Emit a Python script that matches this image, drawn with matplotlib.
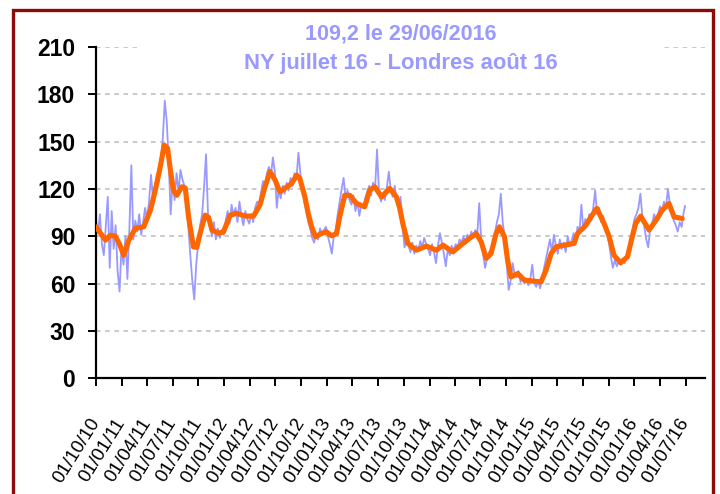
import matplotlib
matplotlib.use("Agg")
import matplotlib.pyplot as plt
from matplotlib.patches import Rectangle
import pandas as pd

plt.rcParams['font.family'] = ['Liberation Sans', 'DejaVu Sans']

# weekly spot prices (cents/lb), from 01/10/2010, one value every 7 days
spot_2010_11 = [100, 92, 104, 85, 78, 96, 115, 70, 106, 82, 97, 68, 55,
                84, 72, 90, 63, 95, 135, 88, 100, 93, 104, 91, 99, 108,
                101, 112, 129, 114, 122, 128, 125, 138, 152, 176, 163, 138, 104,
                125, 113, 130, 118, 132, 126, 122, 111, 96, 78, 62, 50, 72,
                85, 97, 104, 121, 142, 104, 96, 90, 99, 88, 95, 89, 94]
spot_2012 = [91, 100, 106, 98, 110, 103, 108, 99, 112, 103, 97, 106, 101,
             98, 104, 99, 108, 112, 110, 118, 125, 121, 130, 134, 128, 140,
             131, 108, 120, 114, 122, 117, 124, 119, 127, 122, 130, 126, 143,
             130, 122, 112, 106, 99, 95, 89, 86, 92, 88, 95, 91, 94]
spot_2013 = [96, 90, 85, 79, 90, 94, 104, 112, 120, 127, 114, 119, 113,
             110, 116, 106, 112, 103, 110, 108, 114, 118, 122, 116, 124, 120,
             145, 118, 112, 117, 113, 121, 131, 119, 115, 122, 112, 108, 115,
             96, 83, 88, 84, 80, 86, 79, 84, 81, 87, 83, 89, 85]
spot_2014 = [82, 78, 85, 80, 73, 84, 92, 86, 79, 71, 82, 78, 84,
             81, 85, 83, 88, 86, 90, 85, 91, 88, 93, 89, 94, 91,
             111, 88, 78, 70, 76, 80, 78, 86, 92, 99, 104, 117, 98,
             90, 72, 56, 62, 73, 66, 64, 68, 61, 65, 60, 63, 59]
spot_2015_16 = [63, 72, 60, 58, 62, 57, 63, 70, 76, 82, 88, 80, 91,
                84, 79, 88, 82, 86, 80, 90, 84, 87, 92, 85, 96, 93,
                110, 94, 101, 97, 104, 100, 108, 119, 104, 108, 99, 103, 96,
                92, 86, 77, 70, 75, 71, 74, 72, 76, 73, 78, 82, 89,
                94, 101, 104, 108, 117, 103, 96, 88, 83, 95, 98, 104, 100,
                104, 109, 106, 112, 108, 120, 111, 105, 100, 97, 93, 99, 96, 105]
last_date = '2016-06-29'
last_price = 109.2

# smoothed series: days since 01/10/2010 and value
smooth_day = [0, 34, 51, 69, 84, 99, 117, 140, 170, 194, 211, 229, 243, 255, 265,
              276, 288, 306, 318, 330, 347, 359, 371, 389, 401, 413, 436, 454,
              478, 501, 531, 561, 584, 602, 620, 638, 655, 673, 697, 715, 726,
              744, 756, 768, 782, 803, 821, 839, 857, 868, 886, 904, 928, 957,
              975, 993, 1017, 1046, 1070, 1082, 1093, 1111, 1141, 1177, 1212,
              1236, 1271, 1307, 1330, 1354, 1372, 1390, 1407, 1425, 1437, 1455,
              1466, 1478, 1502, 1526, 1555, 1585, 1603, 1621, 1638, 1668, 1703,
              1715, 1745, 1763, 1784, 1810, 1828, 1845, 1869, 1893, 1910, 1922,
              1940, 1970, 1999, 2017, 2041, 2059, 2088]
smooth_val = [96, 87.6, 90.7, 90, 85, 78, 87.6, 95, 96, 106.6, 119, 134, 147.8, 145.7, 132,
              119, 116, 121.4, 120.6, 102, 83.3, 83, 92, 103.4, 102, 94, 92, 92.8,
              103.4, 104.6, 102.8, 102.8, 109.8, 121.4, 131, 125.6, 118.2, 120.4, 123.5, 128.8, 126.7,
              115, 104.5, 96, 89.7, 91.8, 92.8, 90.3, 91.8, 102.3, 116, 116, 110.8, 108.7,
              119.3, 121.4, 115, 120.4, 115, 107.7, 98, 85.5, 81.2, 83.8, 81.2,
              84.4, 80.1, 85.5, 88.6, 91.8, 86.5, 76, 79, 91.8, 96, 89.7,
              75, 64.3, 66.4, 62.2, 61.7, 61.1, 68.5, 79, 83.3, 84.4, 85.5,
              91.8, 97, 102.3, 107.7, 98, 89.7, 78, 73.2, 77, 89.7, 98,
              102.8, 94, 101.3, 106.6, 110.8, 102.3, 101.3]

start = pd.Timestamp('2010-10-01')
spot = spot_2010_11 + spot_2012 + spot_2013 + spot_2014 + spot_2015_16
spot_dates = list(pd.date_range(start, periods=len(spot), freq='7D')) + [pd.Timestamp(last_date)]
spot = spot + [last_price]
smooth_dates = [start + pd.Timedelta(days=d) for d in smooth_day]

ticks = pd.date_range('2010-10-01', '2016-07-01', freq='QS')
yticks = [0, 30, 60, 90, 120, 150, 180, 210]

fig = plt.figure(figsize=(7.2, 4.94), dpi=100)
ax = fig.add_axes([0.1333, 0.2342, 0.8458, 0.6707])

ax.plot(spot_dates, spot, color='#9999FF', lw=1.3, zorder=2)
ax.plot(smooth_dates, smooth_val, color='#FF6600', lw=3.7, zorder=3,
        solid_capstyle='round', solid_joinstyle='round')

ax.set_ylim(0, 210)
ax.set_xlim(pd.Timestamp('2010-10-01'), pd.Timestamp('2016-09-08'))
ax.set_yticks(yticks)
ax.set_xticks(ticks)
ax.set_xticklabels([t.strftime('%d/%m/%y') for t in ticks], rotation=58,
                   ha='right', va='center', rotation_mode='anchor', fontsize=13.5)
for lbl in ax.get_yticklabels():
    lbl.set_fontsize(16.5)
    lbl.set_fontweight('bold')

ax.grid(axis='y', color='#BBBBBB', linestyle=(0, (3, 3)), lw=1.1)
ax.set_axisbelow(True)
ax.spines['top'].set_visible(False)
ax.spines['right'].set_visible(False)
ax.spines['left'].set_linewidth(1.6)
ax.spines['bottom'].set_linewidth(1.6)
ax.tick_params(axis='y', direction='out', length=6, width=1.4, pad=9)
ax.tick_params(axis='x', direction='out', length=6, width=1.4, pad=24)

# white box behind the title hides the top gridline
ax.add_patch(Rectangle((0.19, 0.848), 0.731, 0.112, transform=fig.transFigure,
                       facecolor='white', edgecolor='none', zorder=1, clip_on=False))
fig.text(0.556, 0.931, '109,2 le 29/06/2016', color='#9999FF', fontsize=15.5,
         fontweight='bold', ha='center', va='center')
fig.text(0.556, 0.872, 'NY juillet 16 - Londres août 16', color='#9999FF', fontsize=15.8,
         fontweight='bold', ha='center', va='center')

# dark red frame, running off the bottom edge
fig.patches.append(Rectangle((0.0181, -0.05), 0.9722, 1.03, transform=fig.transFigure,
                             facecolor='none', edgecolor='#8B0A0A', lw=2.4))

fig.savefig('out.png', dpi=100)
